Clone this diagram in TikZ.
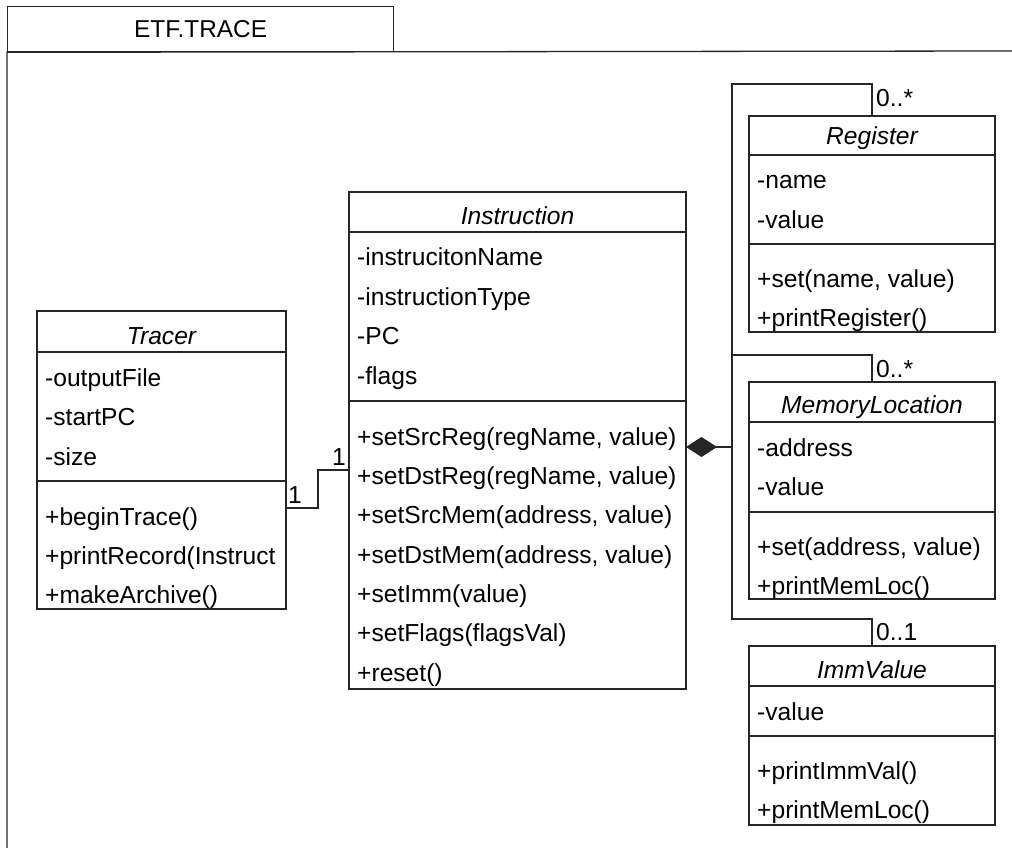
\documentclass[tikz,border=0pt]{standalone}
\usepackage{fontspec}
\setmainfont{Liberation Sans}
\usetikzlibrary{arrows.meta}
\begin{document}
\begin{tikzpicture}[x=1pt,y=-1pt,
  ink/.style={draw=black!85, line width=1.3pt},
  classbox/.style={ink, anchor=north west, inner sep=0pt, outer sep=0pt},
  classname/.style={anchor=base, inner sep=0pt, font=\fontsize{24.6}{28}\selectfont\itshape},
  member/.style={anchor=base west, inner sep=0pt, font=\fontsize{24.6}{28}\selectfont},
  mult/.style={anchor=base west, inner sep=0pt, font=\fontsize{24.6}{28}\selectfont},
  link/.style={ink}]
\useasboundingbox (0,0) rectangle (1012,848);

% package frame
\node[ink, anchor=north west, minimum width=386pt, minimum height=45pt, inner sep=0pt,
      font=\fontsize{24.4}{28}\selectfont] (pkg) at (7,6) {ETF.TRACE};
\draw[ink] (7,848) -- (pkg.south west) -- (1012,51);

% ---- Tracer
\node[classbox, minimum width=249pt, minimum height=298pt] (tracer) at (37,311) {};
\draw[ink] (tracer.west |- 0,352) -- (tracer.east |- 0,352);
\draw[ink] (tracer.west |- 0,481) -- (tracer.east |- 0,481);
\node[classname] (tracerT) at (161.5,344) {Tracer};
\node[member] (tr1) at (45,386) {-outputFile};
\node[member] (tr2) at (45,425.5) {-startPC};
\node[member] (tr3) at (45,465) {-size};
\node[member] (tr4) at (45,525) {+beginTrace()};
\node[member] (tr5) at (45,564) {+printRecord(Instruct};
\node[member] (tr6) at (45,603) {+makeArchive()};

% ---- Instruction
\node[classbox, minimum width=337pt, minimum height=497pt] (instr) at (349,192) {};
\draw[ink] (instr.west |- 0,232) -- (instr.east |- 0,232);
\draw[ink] (instr.west |- 0,401) -- (instr.east |- 0,401);
\node[classname] (instrT) at (517.5,224) {Instruction};
\node[member] (in1) at (357,265.5) {-instrucitonName};
\node[member] (in2) at (357,305) {-instructionType};
\node[member] (in3) at (357,344.5) {-PC};
\node[member] (in4) at (357,384) {-flags};
\node[member] (in5) at (357,445) {+setSrcReg(regName, value)};
\node[member] (in6) at (357,484.3) {+setDstReg(regName, value)};
\node[member] (in7) at (357,523.7) {+setSrcMem(address, value)};
\node[member] (in8) at (357,563) {+setDstMem(address, value)};
\node[member] (in9) at (357,602.3) {+setImm(value)};
\node[member] (in10) at (357,641.7) {+setFlags(flagsVal)};
\node[member] (in11) at (357,681) {+reset()};

% ---- Register
\node[classbox, minimum width=246pt, minimum height=216pt] (register) at (749,116) {};
\draw[ink] (register.west |- 0,155) -- (register.east |- 0,155);
\draw[ink] (register.west |- 0,244) -- (register.east |- 0,244);
\node[classname] (registerT) at (872,145) {Register};
\node[member] (re1) at (757,189) {-name};
\node[member] (re2) at (757,228.5) {-value};
\node[member] (re3) at (757,287.5) {+set(name, value)};
\node[member] (re4) at (757,326.5) {+printRegister()};

% ---- MemoryLocation
\node[classbox, minimum width=246pt, minimum height=217pt] (memloc) at (749,382) {};
\draw[ink] (memloc.west |- 0,422) -- (memloc.east |- 0,422);
\draw[ink] (memloc.west |- 0,512) -- (memloc.east |- 0,512);
\node[classname] (memlocT) at (872,413) {MemoryLocation};
\node[member] (me1) at (757,456) {-address};
\node[member] (me2) at (757,495.5) {-value};
\node[member] (me3) at (757,555.5) {+set(address, value)};
\node[member] (me4) at (757,594.5) {+printMemLoc()};

% ---- ImmValue
\node[classbox, minimum width=246pt, minimum height=179pt] (immval) at (749,646) {};
\draw[ink] (immval.west |- 0,686) -- (immval.east |- 0,686);
\draw[ink] (immval.west |- 0,736) -- (immval.east |- 0,736);
\node[classname] (immvalT) at (872,678) {ImmValue};
\node[member] (im1) at (757,720) {-value};
\node[member] (im2) at (757,779.5) {+printImmVal()};
\node[member] (im3) at (757,818.5) {+printMemLoc()};

% ---- association Tracer -- Instruction
\draw[link] (tracer.east |- 0,508) -| (318,470) -- (instr.west |- 0,470);
\node[mult] (m1) at (288,503) {1};
\node[mult] (m2) at (332,465) {1};

% ---- composition Instruction <>-- parts
\coordinate (busTop) at (732,84);
\coordinate (busMid) at (732,447);
\coordinate (busMem) at (732,355);
\coordinate (busBot) at (732,619);
\draw[link, {Diamond[length=31pt,width=20pt]}-] (instr.east |- busMid) -- (busMid);
\draw[link] (register.north) |- (busTop) -- (busBot) -| (immval.north);
\draw[link] (busMem) -| (memloc.north);
\node[mult] (m3) at (876,107) {0..*};
\node[mult] (m4) at (876,377) {0..*};
\node[mult] (m5) at (876,640) {0..1};
\end{tikzpicture}
\end{document}
